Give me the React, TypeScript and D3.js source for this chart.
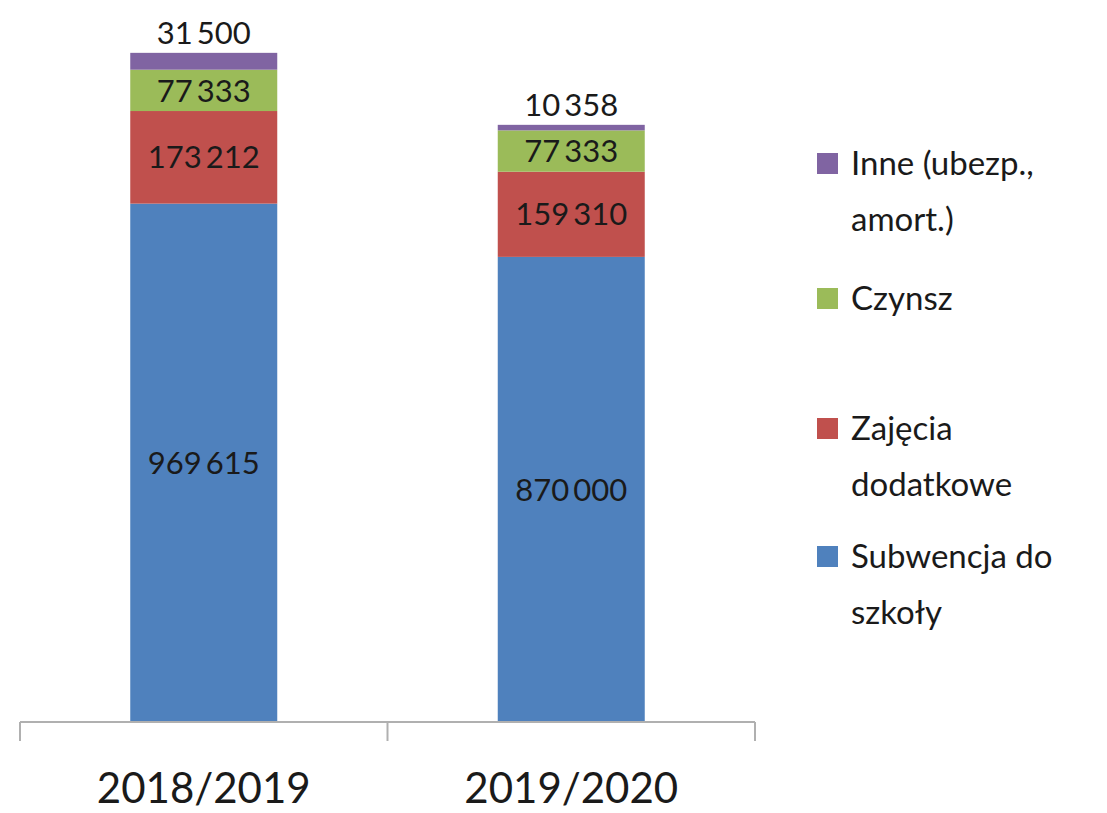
import * as d3 from 'd3';

const years = ['2018/2019', '2019/2020'];
const series = ['Subwencja do szkoły', 'Zajęcia dodatkowe', 'Czynsz', 'Inne (ubezp., amort.)'];
const subwencja = [969615, 870000];
const zajecia = [173212, 159310];
const czynsz = [77333, 77333];
const inne = [31500, 10358];
const colors = ['#4F81BD', '#C0504D', '#9BBB59', '#8064A2'];
const legendLines = [
  ['Inne (ubezp.,', 'amort.)'],
  ['Czynsz'],
  ['Zajęcia', 'dodatkowe'],
  ['Subwencja do', 'szkoły'],
];

const W = 1107;
const H = 813;
const FONT = 'Lato, "Open Sans", sans-serif';

export default function App() {
  const rows = years.map((yr, i) => ({
    year: yr,
    s0: subwencja[i], s1: zajecia[i], s2: czynsz[i], s3: inne[i],
  }));
  const keys = ['s0', 's1', 's2', 's3'];
  const stacked = d3.stack<any>().keys(keys)(rows);

  const x = d3.scaleBand().domain(years).range([20, 755]).paddingInner(0.6).paddingOuter(0.3);
  const y = d3.scaleLinear().domain([0, 1300000]).range([722, 27]);
  const fmt = (v: number) => d3.format(',')(v).replace(/,/g, '\u2009');

  const legendY = [163, 298, 428, 556];

  return (
    <svg width={W} height={H} style={{ position: 'absolute', left: 0, top: 0 }} fontFamily={FONT}>
      <rect width={W} height={H} fill="#fff" />
      {stacked.map((layer, li) => (
        <g key={li}>
          {layer.map((d, j) => {
            const x0 = x(years[j])!;
            const top = y(d[1]);
            const bot = y(d[0]);
            const isTop = li === 3;
            const cy = isTop ? top - 20 : (top + bot) / 2;
            return (
              <g key={j}>
                <rect x={x0} y={top} width={x.bandwidth()} height={bot - top} fill={colors[li]} />
                <text x={x0 + x.bandwidth() / 2} y={cy} dy="0.36em" textAnchor="middle"
                  fontSize={31} fill="#1a1a1a">{fmt(d[1] - d[0])}</text>
              </g>
            );
          })}
        </g>
      ))}
      {/* axis */}
      <line x1={20} x2={755} y1={722} y2={722} stroke="#B0B0B0" strokeWidth={2} />
      {[20, (x(years[0])! + x.bandwidth() + x(years[1])!) / 2, 755].map((tx, i) => (
        <line key={i} x1={tx} x2={tx} y1={722} y2={741} stroke="#B0B0B0" strokeWidth={2} />
      ))}
      {years.map(yr => (
        <text key={yr} x={x(yr)! + x.bandwidth() / 2} y={788} dy="0.36em" textAnchor="middle"
          fontSize={42} fill="#1a1a1a">{yr}</text>
      ))}
      {/* legend */}
      {legendLines.map((lines, i) => (
        <g key={i} transform={`translate(817,${legendY[i]})`}>
          <rect x={0} y={-10} width={21} height={21} fill={colors[3 - i]} />
          {lines.map((t, k) => (
            <text key={k} x={34} y={k * 56} dy="0.36em" fontSize={33} fill="#1a1a1a">{t}</text>
          ))}
        </g>
      ))}
    </svg>
  );
}
